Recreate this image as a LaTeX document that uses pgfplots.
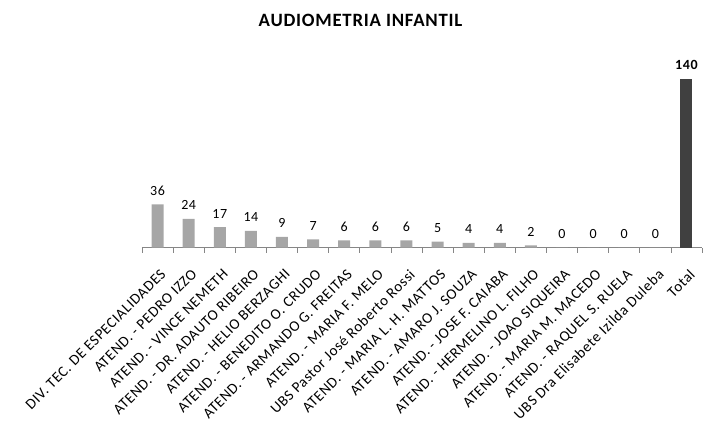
\documentclass[border=0pt]{standalone}
\usepackage{fontspec}
\setmainfont{Carlito}[LetterSpace=4]
\usepackage{pgfplots}
\pgfplotsset{compat=1.18}
\definecolor{barg}{HTML}{A6A6A6}
\definecolor{bard}{HTML}{404040}
\definecolor{axg}{HTML}{868686}
\begin{document}
\begin{tikzpicture}
\useasboundingbox (-142bp,-178.3bp) rectangle (562bp,247.7bp);
\begin{axis}[
  /pgf/number format/assume math mode=true,
  scale only axis, width=560bp, height=168.7bp,
  xmin=-0.5, xmax=17.5, ymin=0, ymax=140,
  axis x line*=bottom, axis y line=none,
  x axis line style={axg, line width=0.75bp, -},
  xtick={0,...,17},
  major x tick style={draw=none},
  minor xtick={-0.5,0.5,...,17.5},
  minor x tick style={axg, line width=0.75bp},
  minor tick length=5bp,
  tick align=outside,
  xticklabels={
    DIV. TEC. DE ESPECIALIDADES,
    ATEND. - PEDRO IZZO,
    ATEND. - VINCE NEMETH,
    ATEND. - DR. ADAUTO RIBEIRO,
    ATEND. - HELIO BERZAGHI,
    ATEND. - BENEDITO O. CRUDO,
    ATEND. - ARMANDO G. FREITAS,
    ATEND. - MARIA F. MELO,
    UBS Pastor José Roberto Rossi,
    ATEND. - MARIA L. H. MATTOS,
    ATEND. - AMARO J. SOUZA,
    ATEND. - JOSE F. CAIABA,
    ATEND. - HERMELINO L. FILHO,
    ATEND. - JOAO SIQUEIRA,
    ATEND. - MARIA M. MACEDO,
    ATEND. - RAQUEL S. RUELA,
    UBS Dra Elisabete Izilda Duleba,
    Total},
  xticklabel style={xshift=2bp, yshift=-16bp, rotate=45, anchor=north east, inner sep=0pt,
    font=\fontsize{15bp}{15bp}\selectfont},
  ybar, bar width=12bp, bar shift=0pt,
  clip=false,
  nodes near coords,
  nodes near coords style={anchor=south, inner sep=0pt, yshift=9bp,
    font=\fontsize{14bp}{14bp}\selectfont, black},
]
\addplot[fill=barg, draw=none] coordinates {
  (0,36) (1,24) (2,17) (3,14) (4,9) (5,7) (6,6) (7,6) (8,6)
  (9,5) (10,4) (11,4) (12,2) (13,0) (14,0) (15,0) (16,0)};
\addplot[fill=bard, draw=none,
  nodes near coords style={font=\fontsize{14bp}{14bp}\selectfont\bfseries}]
  coordinates {(17,140)};
\end{axis}
\node[anchor=base, font=\fontsize{18.8bp}{18.8bp}\selectfont\bfseries] at (218.5bp,221bp) {AUDIOMETRIA INFANTIL};
\end{tikzpicture}
\end{document}
